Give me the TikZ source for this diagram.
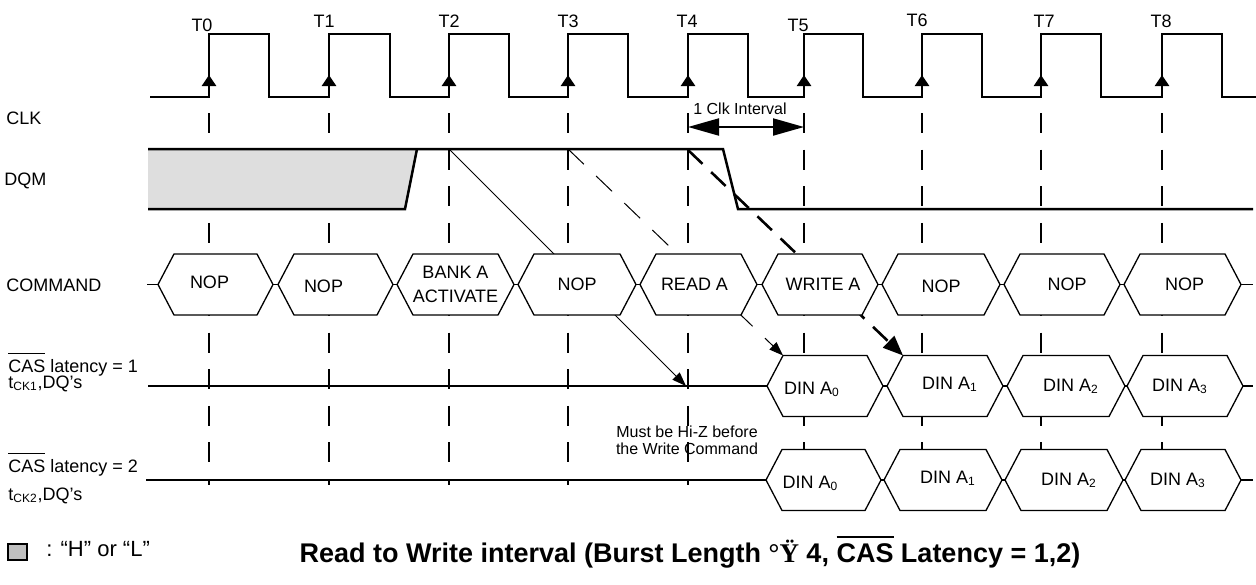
\documentclass[tikz,border=0pt]{standalone}
\usepackage{fontspec}
\setmainfont{Liberation Sans}
\newfontfamily\timesfont{Liberation Serif}
\usetikzlibrary{arrows.meta,backgrounds}

\newcommand{\casbar}[2][0.65pt]{\vbox{\hrule height #1\kern 2.6pt\hbox{#2}}}
\newcommand{\busbox}[6][]{%
  \filldraw[bus] (#2,#4) -- (#2+16,#4-30.5) -- (#3-16,#4-30.5) -- (#3,#4)
    -- (#3-16,#4+30.5) -- (#2+16,#4+30.5) -- cycle;
  \coordinate (#5-nw) at (#2+16,#4-30.5);
  \node[boxtext,#1] (#5) at ({(#2+#3)/2},#4) {#6};}

\tikzset{
  sig/.style={line width=1.25pt},
  wire/.style={line width=0.6pt},
  clkmark/.style={line width=1.1pt, dash pattern=on 10pt off 8.3pt},
  bus/.style={line width=0.65pt, fill=white},
  lbl/.style={font=\fontsize{9}{10}\selectfont, inner sep=0pt},
  boxtext/.style={lbl, align=center, font=\fontsize{9}{12}\selectfont},
  notetext/.style={font=\fontsize{8}{8.5}\selectfont, inner sep=0pt, align=center},
  hint/.style={line width=0.5pt, -{Triangle[length=7pt,width=5pt]}},
  hintbold/.style={line width=1.3pt, dash pattern=on 10pt off 6pt, -{Triangle[length=10pt,width=8pt]}}
}

\begin{document}
\begin{tikzpicture}[x=0.5pt,y=-0.5pt]
  \useasboundingbox (0,0) rectangle (1256,584);
  \foreach \r in {209,329,449,568,688,804,922,1041,1162}
    \draw[clkmark] (\r,113) -- (\r,485);
  \draw[sig] (150,97) \foreach \r/\f in {209/269,329/390,449/509,568/628,688/748,804/863,922/982,1041/1101,1162/1222}
    { -- (\r,97) -- (\r,34) -- (\f,34) -- (\f,97) } -- (1256,97);
  \foreach \r in {209,329,449,568,688,804,922,1041,1162}
    \draw[sig, -{Triangle[length=5.5pt,width=7pt]}] (\r,97) -- (\r,75);
  \foreach \x/\y/\t in {202/25/T0,324/21/T1,449/21/T2,568/21/T3,687/21/T4,798/25/T5,917/20/T6,1044/21/T7,1161/21/T8}
    \node[lbl] (\t) at (\x,\y) {\t};

  \node[lbl, anchor=west] (clk) at (6,118) {CLK};
  \node[lbl, anchor=west] (dqm) at (4,181) {DQM};
  \node[lbl, anchor=west] (cmd) at (6,285) {COMMAND};
  \node[lbl, anchor=base west] (cas1) at (8,372) {\casbar{CAS} latency = 1};
  \node[lbl, anchor=base west] (tck1) at (8,388) {t\textsubscript{CK1},DQ’s};
  \node[lbl, anchor=base west] (cas2) at (8,472) {\casbar{CAS} latency = 2};
  \node[lbl, anchor=base west] (tck2) at (8,500) {t\textsubscript{CK2},DQ’s};

  \fill[black!13] (148,149) -- (417,149) -- (405,209) -- (148,209) -- cycle;
  \draw[sig] (148,149) -- (723,149) -- (738,209) -- (1253,209);
  \draw[sig] (148,209) -- (405,209) -- (417,149);

  \draw[wire] (147,284.5) -- (1253,284.5);
  \draw[sig] (148,386) -- (767,386);
  \draw[wire] (767,386) -- (1253,386);
  \draw[sig] (146,480) -- (766,480);
  \draw[wire] (766,480) -- (1253,480);

  \coordinate (dqmT2) at (449,149);
  \coordinate (dqmT3) at (568,149);
  \coordinate (dqmT4) at (688,150);
  \coordinate (dqT4) at (686,386);

  \busbox[xshift=-3pt,yshift=1pt]{158}{273}{284.5}{nop0}{NOP}
  \busbox[xshift=-6pt,yshift=-1pt]{278}{393}{284.5}{nop1}{NOP}
  \busbox{397}{514}{284.5}{act}{BANK A\\ACTIVATE}
  \busbox{518}{636}{284.5}{nop3}{NOP}
  \busbox[xshift=-2pt]{640}{757}{284.5}{rd}{READ A}
  \busbox[xshift=1.5pt]{762}{878}{284.5}{wr}{WRITE A}
  \busbox[yshift=-1pt]{882}{1000}{284.5}{nop6}{NOP}
  \busbox[xshift=2.5pt]{1004}{1120}{284.5}{nop7}{NOP}
  \busbox[xshift=1pt]{1124}{1241}{284.5}{nop8}{NOP}

  \busbox[xshift=-6.5pt,yshift=-1.5pt]{767}{883}{386}{d0}{DIN A\textsubscript{0}}
  \busbox[xshift=2.5pt,yshift=1pt]{887}{1003}{386}{d1}{DIN A\textsubscript{1}}
  \busbox[xshift=2.5pt]{1007}{1125}{386}{d2}{DIN A\textsubscript{2}}
  \busbox[xshift=-2.5pt]{1127}{1243}{386}{d3}{DIN A\textsubscript{3}}
  \busbox[xshift=-6.5pt,yshift=-1.5pt]{766}{881}{480}{e0}{DIN A\textsubscript{0}}
  \busbox[xshift=2.5pt,yshift=1pt]{884}{1002}{480}{e1}{DIN A\textsubscript{1}}
  \busbox[xshift=2.5pt]{1005}{1123}{480}{e2}{DIN A\textsubscript{2}}
  \busbox[xshift=-2.5pt]{1125}{1241}{480}{e3}{DIN A\textsubscript{3}}

  \begin{scope}[on background layer]
    \path[hint] (dqmT2) edge (dqT4);
    \path[hint, dash pattern=on 11pt off 8.5pt] (dqmT3) edge (d0-nw);
    \path[hintbold] (dqmT4) edge (d1-nw);
  \end{scope}

  \coordinate (ivA) at (688,127);
  \coordinate (ivB) at (804,127);
  \draw[line width=1pt, {Triangle[length=15.5pt,width=8.5pt]}-{Triangle[length=15.5pt,width=8.5pt]}] (ivA) -- (ivB);
  \node[notetext] (ivl) at (740,109) {1 Clk Interval};
  \node[notetext] (hiz) at (687,440) {Must be Hi-Z before\\the Write Command};

  \filldraw[fill=black!25, line width=0.6pt] (8,544) rectangle (27,560);
  \node[lbl, anchor=base west, font=\fontsize{11}{12}\selectfont] (legend) at (46,556) {: “H” or “L”};
  \node[anchor=base, inner sep=0pt, font=\bfseries\fontsize{13.5}{15}\selectfont] (title) at (690,562)
    {Read to Write interval (Burst Length {\timesfont °Ÿ} 4, \casbar[1.2pt]{CAS} Latency = 1,2)};
\end{tikzpicture}
\end{document}
